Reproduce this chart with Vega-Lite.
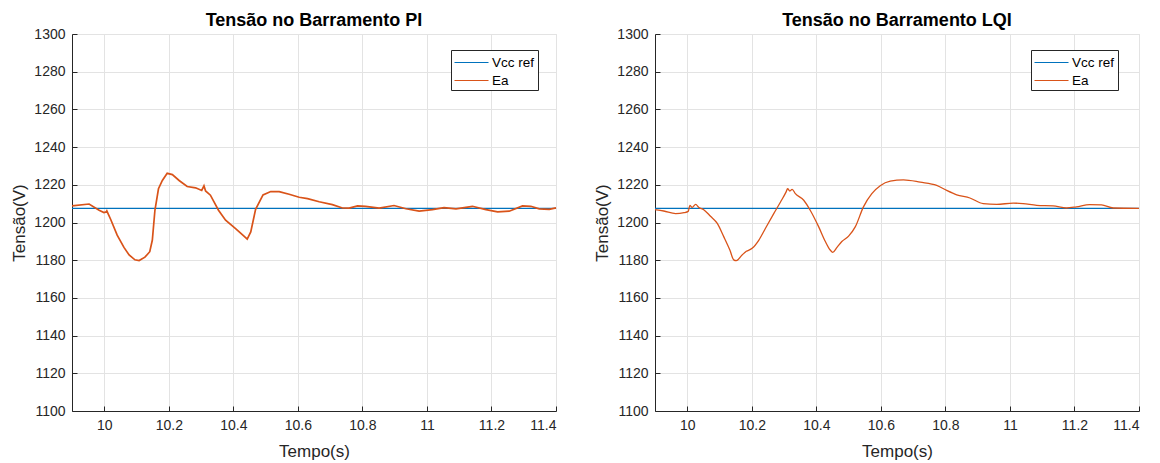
{
  "$schema": "https://vega.github.io/schema/vega-lite/v6.json",
  "background": "white",
  "padding": {"left": 10, "top": 11, "right": 5, "bottom": 5},
  "spacing": 99,
  "bounds": "flush",
  "config": {
    "font": "Liberation Sans",
    "view": {"stroke": "#dedede", "strokeWidth": 1},
    "axis": {
      "labelFont": "Liberation Sans", "labelFontSize": 14, "labelColor": "#262626",
      "titleFont": "Liberation Sans", "titleFontSize": 17, "titleFontWeight": "normal", "titleColor": "#262626",
      "domainColor": "#262626", "tickColor": "#262626", "tickSize": -5, "labelPadding": 12,
      "gridColor": "#e3e3e3", "gridOpacity": 1
    },
    "axisX": {"titlePadding": 11},
    "axisY": {"titlePadding": 5},
    "title": {"font": "Liberation Sans", "fontSize": 18, "fontWeight": "bold", "color": "#000000", "offset": -3, "anchor": "middle", "frame": "group"},
    "legend": {
      "orient": "none", "title": null, "fillColor": "white", "strokeColor": "#262626", "cornerRadius": 0,
      "padding": 3, "symbolType": "M-1,0H2.78", "symbolSize": 324, "symbolStrokeWidth": 1, "symbolOffset": 0,
      "labelOffset": 19, "rowPadding": 2, "labelFont": "Liberation Sans", "labelFontSize": 13.5, "labelColor": "#000000", "labelAlign": "left"
    }
  },
  "datasets": {
    "rows": [
      {"p": "PI", "s": "Vcc ref", "t": 9.9, "v": 1207.5},
      {"p": "PI", "s": "Vcc ref", "t": 11.4, "v": 1207.5},
      {"p": "LQI", "s": "Vcc ref", "t": 9.9, "v": 1207.5},
      {"p": "LQI", "s": "Vcc ref", "t": 11.4, "v": 1207.5},
      {"p": "PI", "s": "Ea", "t": 9.9, "v": 1208.8},
      {"p": "PI", "s": "Ea", "t": 9.953, "v": 1209.8},
      {"p": "PI", "s": "Ea", "t": 9.984, "v": 1206.5},
      {"p": "PI", "s": "Ea", "t": 9.999, "v": 1205.3},
      {"p": "PI", "s": "Ea", "t": 10.006, "v": 1205.6},
      {"p": "PI", "s": "Ea", "t": 10.008, "v": 1206.2},
      {"p": "PI", "s": "Ea", "t": 10.011, "v": 1205},
      {"p": "PI", "s": "Ea", "t": 10.02, "v": 1201.6},
      {"p": "PI", "s": "Ea", "t": 10.04, "v": 1193.3},
      {"p": "PI", "s": "Ea", "t": 10.061, "v": 1186.8},
      {"p": "PI", "s": "Ea", "t": 10.077, "v": 1182.8},
      {"p": "PI", "s": "Ea", "t": 10.095, "v": 1180.2},
      {"p": "PI", "s": "Ea", "t": 10.108, "v": 1179.8},
      {"p": "PI", "s": "Ea", "t": 10.126, "v": 1181.6},
      {"p": "PI", "s": "Ea", "t": 10.141, "v": 1184.5},
      {"p": "PI", "s": "Ea", "t": 10.149, "v": 1190.7},
      {"p": "PI", "s": "Ea", "t": 10.157, "v": 1206.5},
      {"p": "PI", "s": "Ea", "t": 10.168, "v": 1217.9},
      {"p": "PI", "s": "Ea", "t": 10.18, "v": 1222.3},
      {"p": "PI", "s": "Ea", "t": 10.195, "v": 1226.1},
      {"p": "PI", "s": "Ea", "t": 10.211, "v": 1225.4},
      {"p": "PI", "s": "Ea", "t": 10.232, "v": 1222.3},
      {"p": "PI", "s": "Ea", "t": 10.257, "v": 1219.1},
      {"p": "PI", "s": "Ea", "t": 10.283, "v": 1218.4},
      {"p": "PI", "s": "Ea", "t": 10.302, "v": 1217},
      {"p": "PI", "s": "Ea", "t": 10.309, "v": 1219.5},
      {"p": "PI", "s": "Ea", "t": 10.314, "v": 1216.7},
      {"p": "PI", "s": "Ea", "t": 10.329, "v": 1214.5},
      {"p": "PI", "s": "Ea", "t": 10.354, "v": 1206.5},
      {"p": "PI", "s": "Ea", "t": 10.376, "v": 1201.2},
      {"p": "PI", "s": "Ea", "t": 10.407, "v": 1196.8},
      {"p": "PI", "s": "Ea", "t": 10.433, "v": 1192.8},
      {"p": "PI", "s": "Ea", "t": 10.443, "v": 1191.2},
      {"p": "PI", "s": "Ea", "t": 10.454, "v": 1195},
      {"p": "PI", "s": "Ea", "t": 10.469, "v": 1207},
      {"p": "PI", "s": "Ea", "t": 10.492, "v": 1214.6},
      {"p": "PI", "s": "Ea", "t": 10.516, "v": 1216.4},
      {"p": "PI", "s": "Ea", "t": 10.542, "v": 1216.4},
      {"p": "PI", "s": "Ea", "t": 10.573, "v": 1215},
      {"p": "PI", "s": "Ea", "t": 10.604, "v": 1213.4},
      {"p": "PI", "s": "Ea", "t": 10.63, "v": 1212.7},
      {"p": "PI", "s": "Ea", "t": 10.666, "v": 1211},
      {"p": "PI", "s": "Ea", "t": 10.707, "v": 1209.5},
      {"p": "PI", "s": "Ea", "t": 10.738, "v": 1207.7},
      {"p": "PI", "s": "Ea", "t": 10.759, "v": 1207.6},
      {"p": "PI", "s": "Ea", "t": 10.785, "v": 1208.8},
      {"p": "PI", "s": "Ea", "t": 10.81, "v": 1208.6},
      {"p": "PI", "s": "Ea", "t": 10.852, "v": 1207.6},
      {"p": "PI", "s": "Ea", "t": 10.898, "v": 1209},
      {"p": "PI", "s": "Ea", "t": 10.935, "v": 1207.3},
      {"p": "PI", "s": "Ea", "t": 10.976, "v": 1206},
      {"p": "PI", "s": "Ea", "t": 11.017, "v": 1206.8},
      {"p": "PI", "s": "Ea", "t": 11.053, "v": 1207.9},
      {"p": "PI", "s": "Ea", "t": 11.09, "v": 1207.2},
      {"p": "PI", "s": "Ea", "t": 11.141, "v": 1208.6},
      {"p": "PI", "s": "Ea", "t": 11.183, "v": 1206.8},
      {"p": "PI", "s": "Ea", "t": 11.219, "v": 1205.6},
      {"p": "PI", "s": "Ea", "t": 11.255, "v": 1206},
      {"p": "PI", "s": "Ea", "t": 11.296, "v": 1208.8},
      {"p": "PI", "s": "Ea", "t": 11.322, "v": 1208.6},
      {"p": "PI", "s": "Ea", "t": 11.348, "v": 1207.2},
      {"p": "PI", "s": "Ea", "t": 11.379, "v": 1207},
      {"p": "PI", "s": "Ea", "t": 11.4, "v": 1207.8},
      {"p": "LQI", "s": "Ea", "t": 9.9, "v": 1206.8},
      {"p": "LQI", "s": "Ea", "t": 9.927, "v": 1206.1},
      {"p": "LQI", "s": "Ea", "t": 9.964, "v": 1204.7},
      {"p": "LQI", "s": "Ea", "t": 9.99, "v": 1205.2},
      {"p": "LQI", "s": "Ea", "t": 10.003, "v": 1205.9},
      {"p": "LQI", "s": "Ea", "t": 10.008, "v": 1209.1},
      {"p": "LQI", "s": "Ea", "t": 10.015, "v": 1208},
      {"p": "LQI", "s": "Ea", "t": 10.026, "v": 1209.6},
      {"p": "LQI", "s": "Ea", "t": 10.036, "v": 1208},
      {"p": "LQI", "s": "Ea", "t": 10.051, "v": 1206.8},
      {"p": "LQI", "s": "Ea", "t": 10.072, "v": 1203.3},
      {"p": "LQI", "s": "Ea", "t": 10.093, "v": 1199.5},
      {"p": "LQI", "s": "Ea", "t": 10.113, "v": 1192.5},
      {"p": "LQI", "s": "Ea", "t": 10.132, "v": 1185.4},
      {"p": "LQI", "s": "Ea", "t": 10.144, "v": 1180.2},
      {"p": "LQI", "s": "Ea", "t": 10.152, "v": 1179.8},
      {"p": "LQI", "s": "Ea", "t": 10.17, "v": 1182.8},
      {"p": "LQI", "s": "Ea", "t": 10.183, "v": 1184.7},
      {"p": "LQI", "s": "Ea", "t": 10.201, "v": 1186.3},
      {"p": "LQI", "s": "Ea", "t": 10.222, "v": 1190.7},
      {"p": "LQI", "s": "Ea", "t": 10.242, "v": 1196.8},
      {"p": "LQI", "s": "Ea", "t": 10.268, "v": 1204.7},
      {"p": "LQI", "s": "Ea", "t": 10.289, "v": 1210.9},
      {"p": "LQI", "s": "Ea", "t": 10.306, "v": 1216.1},
      {"p": "LQI", "s": "Ea", "t": 10.311, "v": 1217.9},
      {"p": "LQI", "s": "Ea", "t": 10.318, "v": 1216.7},
      {"p": "LQI", "s": "Ea", "t": 10.325, "v": 1217.6},
      {"p": "LQI", "s": "Ea", "t": 10.335, "v": 1215.3},
      {"p": "LQI", "s": "Ea", "t": 10.361, "v": 1211.8},
      {"p": "LQI", "s": "Ea", "t": 10.381, "v": 1206.5},
      {"p": "LQI", "s": "Ea", "t": 10.407, "v": 1197.8},
      {"p": "LQI", "s": "Ea", "t": 10.428, "v": 1189.9},
      {"p": "LQI", "s": "Ea", "t": 10.443, "v": 1185.4},
      {"p": "LQI", "s": "Ea", "t": 10.451, "v": 1184.2},
      {"p": "LQI", "s": "Ea", "t": 10.464, "v": 1186.8},
      {"p": "LQI", "s": "Ea", "t": 10.479, "v": 1189.9},
      {"p": "LQI", "s": "Ea", "t": 10.5, "v": 1192.8},
      {"p": "LQI", "s": "Ea", "t": 10.521, "v": 1197.8},
      {"p": "LQI", "s": "Ea", "t": 10.546, "v": 1208.3},
      {"p": "LQI", "s": "Ea", "t": 10.572, "v": 1215.3},
      {"p": "LQI", "s": "Ea", "t": 10.598, "v": 1219.5},
      {"p": "LQI", "s": "Ea", "t": 10.629, "v": 1221.9},
      {"p": "LQI", "s": "Ea", "t": 10.67, "v": 1222.6},
      {"p": "LQI", "s": "Ea", "t": 10.722, "v": 1221.4},
      {"p": "LQI", "s": "Ea", "t": 10.773, "v": 1219.7},
      {"p": "LQI", "s": "Ea", "t": 10.804, "v": 1217},
      {"p": "LQI", "s": "Ea", "t": 10.835, "v": 1214.7},
      {"p": "LQI", "s": "Ea", "t": 10.876, "v": 1213},
      {"p": "LQI", "s": "Ea", "t": 10.917, "v": 1210},
      {"p": "LQI", "s": "Ea", "t": 10.959, "v": 1209.6},
      {"p": "LQI", "s": "Ea", "t": 11.01, "v": 1210.3},
      {"p": "LQI", "s": "Ea", "t": 11.041, "v": 1210},
      {"p": "LQI", "s": "Ea", "t": 11.083, "v": 1209.1},
      {"p": "LQI", "s": "Ea", "t": 11.134, "v": 1208.8},
      {"p": "LQI", "s": "Ea", "t": 11.175, "v": 1207.7},
      {"p": "LQI", "s": "Ea", "t": 11.206, "v": 1208.3},
      {"p": "LQI", "s": "Ea", "t": 11.247, "v": 1209.5},
      {"p": "LQI", "s": "Ea", "t": 11.284, "v": 1209.3},
      {"p": "LQI", "s": "Ea", "t": 11.32, "v": 1207.7},
      {"p": "LQI", "s": "Ea", "t": 11.4, "v": 1207.5}
    ]
  },
  "resolve": {"legend": {"color": "independent"}},
  "hconcat": [
    {
      "width": 484, "height": 377,
      "title": "Tensão no Barramento PI",
      "data": {"name": "rows"},
      "transform": [{"filter": "datum.p === 'PI'"}],
      "encoding": {
        "x": {"field": "t", "type": "quantitative", "scale": {"domain": [9.9, 11.4], "nice": false, "zero": false},
              "axis": {"values": [10, 10.2, 10.4, 10.6, 10.8, 11, 11.2, 11.4], "format": ".4~g", "title": "Tempo(s)"}},
        "y": {"field": "v", "type": "quantitative", "scale": {"domain": [1100, 1300], "nice": false, "zero": false},
              "axis": {"values": [1100, 1120, 1140, 1160, 1180, 1200, 1220, 1240, 1260, 1280, 1300], "format": "d", "title": "Tensão(V)"}},
        "color": {"field": "s", "type": "nominal", "scale": {"domain": ["Vcc ref", "Ea"], "range": ["#0072BD", "#D95319"]},
                  "legend": {"legendX": 379, "legendY": 16}}
      },
      "layer": [
        {"transform": [{"filter": "datum.s === 'Vcc ref'"}], "mark": {"type": "line", "strokeWidth": 1.2}},
        {"transform": [{"filter": "datum.s === 'Ea'"}], "mark": {"type": "line", "strokeWidth": 1.7}}
      ]
    },
    {
      "width": 484, "height": 377,
      "title": "Tensão no Barramento LQI",
      "data": {"name": "rows"},
      "transform": [{"filter": "datum.p === 'LQI'"}],
      "encoding": {
        "x": {"field": "t", "type": "quantitative", "scale": {"domain": [9.9, 11.4], "nice": false, "zero": false},
              "axis": {"values": [10, 10.2, 10.4, 10.6, 10.8, 11, 11.2, 11.4], "format": ".4~g", "title": "Tempo(s)"}},
        "y": {"field": "v", "type": "quantitative", "scale": {"domain": [1100, 1300], "nice": false, "zero": false},
              "axis": {"values": [1100, 1120, 1140, 1160, 1180, 1200, 1220, 1240, 1260, 1280, 1300], "format": "d", "title": "Tensão(V)"}},
        "color": {"field": "s", "type": "nominal", "scale": {"domain": ["Vcc ref", "Ea"], "range": ["#0072BD", "#D95319"]},
                  "legend": {"legendX": 376, "legendY": 16}}
      },
      "layer": [
        {"transform": [{"filter": "datum.s === 'Vcc ref'"}], "mark": {"type": "line", "strokeWidth": 1.2}},
        {"transform": [{"filter": "datum.s === 'Ea'"}], "mark": {"type": "line", "strokeWidth": 1.3, "interpolate": "monotone"}}
      ]
    }
  ]
}
